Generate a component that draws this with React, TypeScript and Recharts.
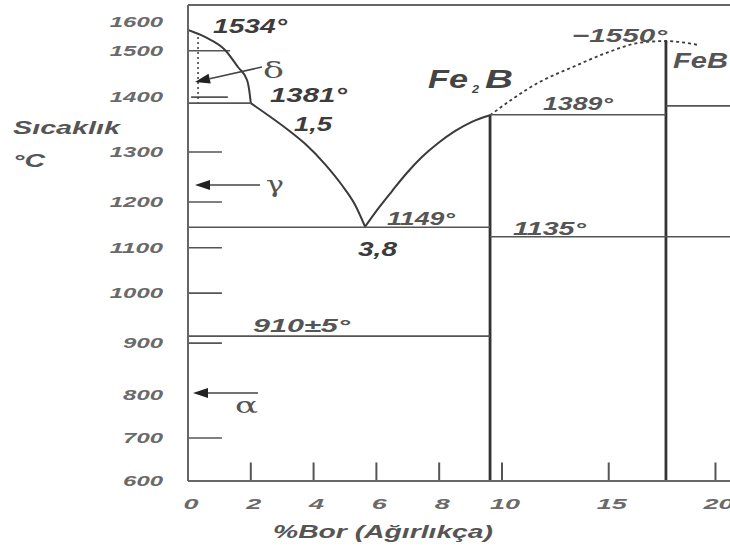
import React from 'react';
import { ComposedChart, Line, XAxis, YAxis, ReferenceLine } from 'recharts';

// axis ticks
const X_TICKS = [0, 2, 4, 6, 8, 10, 15, 20];
const Y_TICKS = [600, 700, 800, 900, 1000, 1100, 1200, 1300, 1400, 1500, 1600];
// the scanned temperature axis is unevenly spaced: where each tick falls on a linear scale
const Y_TICK_STOPS = [600, 694, 788, 901, 1010, 1109, 1209, 1318, 1438, 1539, 1602];
const X_END = 20.68; // %B at the right edge of the scan
const Y_TOP = 1639;

// phase boundaries as [% B, °C]
const deltaLiquidus = [[0, 1572], [0.54, 1548], [1.18, 1503], [1.59, 1465], [1.88, 1437], [1.97, 1405], [2.0, 1389]];
const deltaDotted = [[0.32, 1548], [0.32, 1389]];
const feLiquidus = [[2.0, 1389], [2.55, 1367], [3.15, 1342], [3.73, 1315], [4.36, 1276], [4.9, 1234], [5.32, 1194], [5.64, 1146]];
const fe2bLiquidus = [[5.64, 1146], [6.05, 1185], [6.5, 1222], [6.97, 1258], [7.45, 1290], [7.96, 1316], [8.5, 1338], [9.04, 1355], [9.62, 1367]];
const fe2bDashed = [[9.62, 1367], [11.78, 1433], [13.32, 1465], [14.92, 1496], [16.46, 1528], [17.68, 1534], [19.13, 1521]];

const fe2bLine = [[9.62, 600], [9.62, 1367]];
const febLine = [[17.68, 600], [17.68, 1534]];

// horizontal isotherms
const iso1381 = [[0, 1389], [2.0, 1389]];
const iso1149 = [[0, 1145], [9.62, 1145]];
const iso910 = [[0, 914], [9.62, 914]];
const iso1389 = [[9.62, 1368], [17.68, 1368]];
const iso1135 = [[9.62, 1124], [X_END, 1124]];
const isoFeB = [[17.68, 1384], [X_END, 1384]];

// short tick marks drawn inside the frame
const innerYTicks = [
  { t: 1500, from: 0, to: 1.34 },
  { t: 1400, from: 0.1, to: 1.27 },
  { t: 1300, from: 0, to: 1.08 },
  { t: 1200, from: 0, to: 1.08 },
  { t: 1100, from: 0, to: 1.08 },
  { t: 1000, from: 0, to: 1.08 },
  { t: 900, from: 0, to: 1.08 },
  { t: 700, from: 0, to: 1.08 },
];
const innerXTicks = [2, 4, 6, 8, 10, 15, 20];

// broken x axis: 10..20 is drawn narrower
const wx = (b: number) => (b <= 10 ? b : 10 + (b - 10) * 0.68);
const wy = (t: number) => {
  let i = 0;
  while (i < Y_TICKS.length - 2 && t > Y_TICKS[i + 1]) i++;
  const f = (t - Y_TICKS[i]) / (Y_TICKS[i + 1] - Y_TICKS[i]);
  return Y_TICK_STOPS[i] + f * (Y_TICK_STOPS[i + 1] - Y_TICK_STOPS[i]);
};
const pts = (arr: number[][]) => arr.map(([b, t]) => ({ x: wx(b), y: wy(t) }));

const nearest = (v: number, list: number[], map: (n: number) => number) => {
  let best = list[0];
  list.forEach((n) => {
    if (Math.abs(map(n) - v) < Math.abs(map(best) - v)) best = n;
  });
  return best;
};

const FONT = '"Liberation Sans", Arial, sans-serif';
const SERIF = '"DejaVu Serif", "Liberation Serif", serif';

const XTick = (props: any) => {
  const label = String(nearest(props.payload.value, X_TICKS, wx));
  return (
    <text x={props.x + 3} y={props.y + 26} textAnchor="middle" fontFamily={FONT} fontSize={15}
      fontWeight="bold" fontStyle="italic" fill="#6a6a6a" textLength={label.length * 15}
      lengthAdjust="spacingAndGlyphs">
      {label}
    </text>
  );
};

const YTick = (props: any) => {
  const label = String(nearest(props.payload.value, Y_TICKS, wy));
  return (
    <text x={props.x} y={props.y + 5} textAnchor="end" fontFamily={FONT} fontSize={15}
      fontWeight="bold" fontStyle="italic" fill="#6a6a6a" textLength={label.length * 13.3}
      lengthAdjust="spacingAndGlyphs">
      {label}
    </text>
  );
};

const T = ({ x, y, len, size, fill = '#3c3c3c', serif = false, children }: any) => (
  <text x={x} y={y} fontSize={size} fill={fill} textLength={len} lengthAdjust="spacingAndGlyphs"
    fontFamily={serif ? SERIF : FONT} fontWeight={serif ? 'normal' : 'bold'}
    fontStyle={serif ? 'normal' : 'italic'}>
    {children}
  </text>
);

const Arrow = ({ x1, y1, x2, y2 }: any) => {
  const a = Math.atan2(y2 - y1, x2 - x1);
  const len = 15;
  const w = 5;
  const bx = x2 - len * Math.cos(a);
  const by = y2 - len * Math.sin(a);
  const nx = -Math.sin(a) * w;
  const ny = Math.cos(a) * w;
  return (
    <g>
      <line x1={x1} y1={y1} x2={bx} y2={by} stroke="#444" strokeWidth={1.6} />
      <polygon points={`${x2},${y2} ${bx + nx},${by + ny} ${bx - nx},${by - ny}`} fill="#222" />
    </g>
  );
};

const CURVE = '#3a3a3a';
const ISO = '#555';

export default function App() {
  const series = [
    { d: deltaLiquidus, type: 'monotone', w: 2 },
    { d: feLiquidus, type: 'monotone', w: 2 },
    { d: fe2bLiquidus, type: 'monotone', w: 2 },
    { d: fe2bDashed, type: 'monotone', w: 1.8, dash: '3 3' },
    { d: deltaDotted, type: 'linear', w: 1.5, dash: '2 3' },
    { d: fe2bLine, type: 'linear', w: 2.8 },
    { d: febLine, type: 'linear', w: 2.8 },
    { d: iso1381, type: 'linear', w: 1.6 },
    { d: iso1149, type: 'linear', w: 1.6 },
    { d: iso910, type: 'linear', w: 1.6 },
    { d: iso1389, type: 'linear', w: 1.6 },
    { d: iso1135, type: 'linear', w: 1.6 },
    { d: isoFeB, type: 'linear', w: 1.6 },
  ];

  return (
    <div style={{ position: 'absolute', left: 0, top: 0, width: 730, height: 549, background: '#fff' }}>
      <ComposedChart width={730} height={549} margin={{ top: 5, right: 0, bottom: 0, left: 0 }}>
        <XAxis
          type="number"
          dataKey="x"
          domain={[0, wx(X_END)]}
          ticks={X_TICKS.map(wx)}
          interval={0}
          height={68}
          tickSize={0}
          tickLine={false}
          tick={(p: any) => <XTick {...p} />}
          axisLine={{ stroke: '#666', strokeWidth: 2 }}
          allowDataOverflow
        />
        <YAxis
          type="number"
          dataKey="y"
          domain={[600, Y_TOP]}
          ticks={Y_TICKS.map(wy)}
          interval={0}
          width={188}
          tickSize={0}
          tickMargin={25}
          tickLine={false}
          tick={(p: any) => <YTick {...p} />}
          axisLine={{ stroke: '#666', strokeWidth: 2 }}
          allowDataOverflow
        />
        <ReferenceLine y={Y_TOP} stroke="#666" strokeWidth={2} ifOverflow="visible" />
        {innerYTicks.map((k) => (
          <ReferenceLine
            key={'y' + k.t}
            segment={[{ x: wx(k.from), y: wy(k.t) }, { x: wx(k.to), y: wy(k.t) }]}
            stroke="#555"
            strokeWidth={1.6}
            ifOverflow="visible"
          />
        ))}
        {innerXTicks.map((b) => (
          <ReferenceLine
            key={'x' + b}
            segment={[{ x: wx(b), y: wy(600) }, { x: wx(b), y: wy(643) }]}
            stroke="#555"
            strokeWidth={2}
            ifOverflow="visible"
          />
        ))}
        {series.map((s, i) => (
          <Line
            key={i}
            data={pts(s.d)}
            dataKey="y"
            type={s.type as any}
            stroke={i < 5 ? CURVE : i < 7 ? '#333' : ISO}
            strokeWidth={s.w}
            strokeDasharray={s.dash}
            dot={false}
            activeDot={false}
            isAnimationActive={false}
          />
        ))}
      </ComposedChart>
      <svg width={730} height={549} style={{ position: 'absolute', left: 0, top: 0, pointerEvents: 'none' }}>
        <T x={13} y={134} len={107} size={18} fill="#555">Sıcaklık</T>
        <T x={13} y={167} len={32} size={18} fill="#555">°C</T>
        <T x={273} y={538} len={220} size={19} fill="#555">%Bor (Ağırlıkça)</T>

        <T x={213} y={33} len={74} size={20}>1534°</T>
        <T x={270} y={102} len={77} size={20}>1381°</T>
        <T x={294} y={131} len={38} size={20}>1,5</T>
        <T x={358} y={256} len={39} size={20}>3,8</T>
        <T x={387} y={225} len={68} size={19} fill="#555">1149°</T>
        <T x={428} y={88} len={40} size={25} fill="#444">Fe</T>
        <T x={472} y={93} len={7} size={11} fill="#444">2</T>
        <T x={485} y={88} len={28} size={25} fill="#444">B</T>
        <T x={572} y={42} len={95} size={19} fill="#555">−1550°</T>
        <T x={673} y={68} len={55} size={22} fill="#555">FeB</T>
        <T x={543} y={110} len={70} size={19} fill="#555">1389°</T>
        <T x={513} y={235} len={73} size={19} fill="#555">1135°</T>
        <T x={253} y={332} len={97} size={19} fill="#555">910±5°</T>

        <T x={263} y={78} len={21} size={22} serif fill="#555">δ</T>
        <T x={266} y={192} len={18} size={22} serif fill="#555">γ</T>
        <T x={235} y={413} len={23} size={22} serif fill="#555">α</T>

        <Arrow x1={262} y1={67} x2={195} y2={82} />
        <Arrow x1={260} y1={185} x2={195} y2={185} />
        <Arrow x1={258} y1={393} x2={193} y2={393} />
      </svg>
    </div>
  );
}
